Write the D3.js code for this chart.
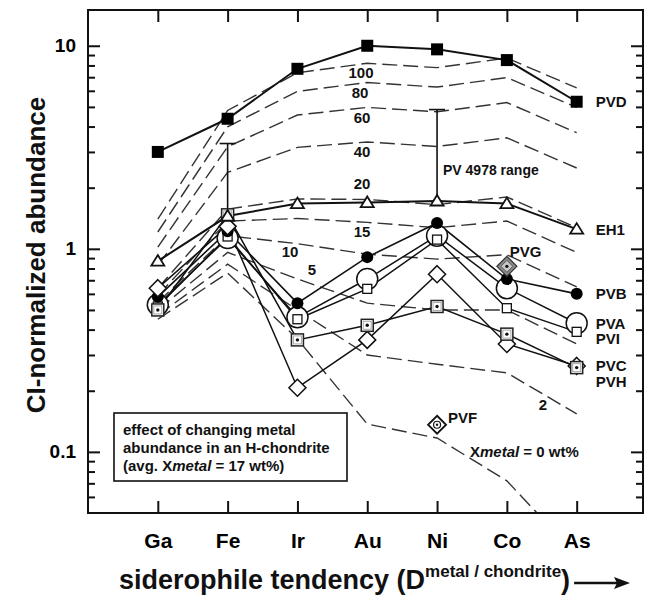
<!DOCTYPE html>
<html>
<head>
<meta charset="utf-8">
<script src="https://cdn.jsdelivr.net/npm/d3@7"></script>
<style>
  body { margin: 0; background: #fff; }
  svg text { font-family: "Liberation Sans", Arial, sans-serif; font-weight: bold; }
</style>
</head>
<body>
<svg id="chart" width="648" height="596"></svg>
<script>
const elements = ["Ga", "Fe", "Ir", "Au", "Ni", "Co", "As"];
const yMajor = [0.1, 1, 10];
const yMinor = [0.06, 0.07, 0.08, 0.09, 0.2, 0.3, 0.4, 0.5, 0.6, 0.7, 0.8, 0.9, 2, 3, 4, 5, 6, 7, 8, 9];

// samples, CI-normalized, in element order
const pvd = [3.0, 4.37, 7.7, 10.0, 9.6, 8.5, 5.3];
const eh1 = [0.87, 1.45, 1.67, 1.69, 1.72, 1.67, 1.25];
const pvb = [0.58, 1.22, 0.54, 0.91, 1.34, 0.71, 0.6];
const pva = [0.53, 1.13, 0.46, 0.71, 1.16, 0.64, 0.43];
const pvi = [0.52, 1.15, 0.45, 0.635, 1.11, 0.51, 0.39];
const pvc = [0.64, 1.29, 0.207, 0.356, 0.75, 0.34, 0.265];
const pvh = [0.5, 1.47, 0.356, 0.42, 0.52, 0.38, 0.26];
const pvgElement = "Co", pvgValue = 0.82;
const pvfElement = "Ni", pvfValue = 0.136;

// PV 4978 range bars
const rangeElements = ["Fe", "Ni"];
const rangeLow = [1.47, 1.74];
const rangeHigh = [3.3, 4.85];

// H-chondrite with changing metal abundance (wt% metal)
const metalPct = [100, 80, 60, 40, 20, 15, 10, 5, 2, 0];
const mix100 = [1.4, 4.8, 7.36, 8.2, 7.8, 8.7, 6.2];
const mix80 = [1.21, 3.99, 5.96, 6.59, 6.26, 6.97, 4.97];
const mix60 = [1.02, 3.18, 4.56, 4.97, 4.73, 5.25, 3.73];
const mix40 = [0.83, 2.38, 3.16, 3.36, 3.19, 3.52, 2.5];
const mix20 = [0.64, 1.57, 1.76, 1.75, 1.65, 1.8, 1.27];
const mix15 = [0.59, 1.37, 1.41, 1.35, 1.27, 1.37, 0.96];
const mix10 = [0.545, 1.16, 1.06, 0.94, 0.89, 0.935, 0.65];
const mix5 = [0.5, 0.96, 0.71, 0.54, 0.5, 0.5, 0.34];
const mix2 = [0.47, 0.84, 0.5, 0.3, 0.27, 0.245, 0.154];
const mix0 = [0.45, 0.76, 0.36, 0.137, 0.117, 0.072, 0.031];

function drawChart() {
  const left = 88, right = 643, top = 10, bottom = 513;
  const svg = d3.select("#chart");

  const x = d3.scaleLinear().domain([0, 7.95]).range([left, right]);
  const y = d3.scaleLog().domain([0.05, 15]).range([bottom, top]);
  const xe = (el) => x(elements.indexOf(el) + 1);

  svg.append("defs").append("clipPath").attr("id", "plotClip")
    .append("rect").attr("x", left).attr("y", top)
    .attr("width", right - left).attr("height", bottom - top);

  // model curves
  const curves = [mix100, mix80, mix60, mix40, mix20, mix15, mix10, mix5, mix2, mix0];
  const line = d3.line().x((d, i) => x(i + 1)).y((d) => y(d));
  svg.append("g").attr("clip-path", "url(#plotClip)")
    .selectAll("path")
    .data(curves)
    .enter()
    .append("path")
    .attr("d", line)
    .attr("fill", "none")
    .attr("stroke", "#333")
    .attr("stroke-width", 1.4)
    .attr("stroke-dasharray", "15,6");

  // range bars
  const rangeG = svg.append("g").attr("stroke", "#111").attr("stroke-width", 1.6);
  rangeElements.forEach((el, i) => {
    const cx = xe(el);
    rangeG.append("line").attr("x1", cx).attr("x2", cx)
      .attr("y1", y(rangeLow[i])).attr("y2", y(rangeHigh[i]));
    rangeG.append("line").attr("x1", cx - 8).attr("x2", cx + 8)
      .attr("y1", y(rangeHigh[i])).attr("y2", y(rangeHigh[i]));
  });

  const samples = [
    { name: "PVA", values: pva, marker: "bigcircle", width: 1.5, dy: 0 },
    { name: "PVI", values: pvi, marker: "smallsquare", width: 1.5, dy: 7 },
    { name: "PVB", values: pvb, marker: "dot", width: 1.6, dy: 0 },
    { name: "PVC", values: pvc, marker: "diamond", width: 1.5, dy: 0 },
    { name: "PVH", values: pvh, marker: "dotsquare", width: 1.5, dy: 14 },
    { name: "EH1", values: eh1, marker: "triangle", width: 2, dy: 0 },
    { name: "PVD", values: pvd, marker: "square", width: 2, dy: 0 },
  ];

  svg.append("g")
    .selectAll("path")
    .data(samples)
    .enter()
    .append("path")
    .attr("d", (d) => line(d.values))
    .attr("fill", "none")
    .attr("stroke", "#111")
    .attr("stroke-width", (d) => d.width);

  const drawMarker = (g, type, cx, cy) => {
    if (type === "square") {
      g.append("rect").attr("x", cx - 6).attr("y", cy - 6).attr("width", 12).attr("height", 12).attr("fill", "#000");
    } else if (type === "dot") {
      g.append("circle").attr("cx", cx).attr("cy", cy).attr("r", 6).attr("fill", "#000");
    } else if (type === "bigcircle") {
      g.append("circle").attr("cx", cx).attr("cy", cy).attr("r", 10.5)
        .attr("fill", "#fff").attr("stroke", "#111").attr("stroke-width", 1.5);
    } else if (type === "smallsquare") {
      g.append("rect").attr("x", cx - 4.5).attr("y", cy - 4.5).attr("width", 9).attr("height", 9)
        .attr("fill", "#fff").attr("stroke", "#111").attr("stroke-width", 1.3);
    } else if (type === "diamond") {
      g.append("path").attr("d", `M${cx},${cy - 8.5}L${cx + 8.5},${cy}L${cx},${cy + 8.5}L${cx - 8.5},${cy}Z`)
        .attr("fill", "#fff").attr("stroke", "#111").attr("stroke-width", 1.5);
    } else if (type === "dotsquare") {
      g.append("rect").attr("x", cx - 6).attr("y", cy - 6).attr("width", 12).attr("height", 12)
        .attr("fill", "#fff").attr("stroke", "#222").attr("stroke-width", 1.5);
      g.append("rect").attr("x", cx - 4).attr("y", cy - 4).attr("width", 8).attr("height", 8)
        .attr("fill", "none").attr("stroke", "#aaa").attr("stroke-width", 1);
      g.append("circle").attr("cx", cx).attr("cy", cy).attr("r", 1.7).attr("fill", "#111");
    } else if (type === "triangle") {
      g.append("path").attr("d", `M${cx},${cy - 6}L${cx + 6.5},${cy + 4.5}L${cx - 6.5},${cy + 4.5}Z`)
        .attr("fill", "#fff").attr("stroke", "#111").attr("stroke-width", 1.8);
    } else if (type === "graydiamond") {
      g.append("path").attr("d", `M${cx},${cy - 10}L${cx + 10},${cy}L${cx},${cy + 10}L${cx - 10},${cy}Z`)
        .attr("fill", "#8a8a8a").attr("stroke", "#333").attr("stroke-width", 1.2);
      g.append("path").attr("d", `M${cx},${cy - 6}L${cx + 6},${cy}L${cx},${cy + 6}L${cx - 6},${cy}Z`)
        .attr("fill", "#c8c8c8").attr("stroke", "#555").attr("stroke-width", 1);
      g.append("circle").attr("cx", cx).attr("cy", cy).attr("r", 1.6).attr("fill", "#111");
    } else if (type === "ringdiamond") {
      g.append("path").attr("d", `M${cx},${cy - 9}L${cx + 9},${cy}L${cx},${cy + 9}L${cx - 9},${cy}Z`)
        .attr("fill", "#fff").attr("stroke", "#111").attr("stroke-width", 1.8);
      g.append("circle").attr("cx", cx).attr("cy", cy).attr("r", 3.5)
        .attr("fill", "#fff").attr("stroke", "#111").attr("stroke-width", 1.2);
      g.append("circle").attr("cx", cx).attr("cy", cy).attr("r", 1.2).attr("fill", "#111");
    }
  };

  const markerG = svg.append("g");
  samples.forEach((s) => {
    s.values.forEach((v, i) => drawMarker(markerG, s.marker, x(i + 1), y(v)));
  });
  drawMarker(markerG, "graydiamond", xe(pvgElement), y(pvgValue));
  drawMarker(markerG, "ringdiamond", xe(pvfElement), y(pvfValue));

  // sample labels at the right end
  svg.append("g")
    .selectAll("text")
    .data(samples)
    .enter()
    .append("text")
    .attr("x", x(7) + 19)
    .attr("y", (d) => y(d.values[6]) + d.dy)
    .attr("dy", "0.36em")
    .attr("font-size", 15)
    .attr("fill", "#111")
    .text((d) => d.name);

  const notes = [
    { t: "PVG", x: xe(pvgElement) + 3, y: y(pvgValue) - 15 },
    { t: "PVF", x: xe(pvfElement) + 11, y: y(pvfValue) - 7 },
    { t: "100", x: 361, y: 73, a: "middle" },
    { t: "80", x: 360, y: 93, a: "middle" },
    { t: "60", x: 362, y: 118, a: "middle" },
    { t: "40", x: 362, y: 152, a: "middle" },
    { t: "20", x: 362, y: 184, a: "middle" },
    { t: "15", x: 362, y: 232, a: "middle" },
    { t: "10", x: 290, y: 252, a: "middle" },
    { t: "5", x: 312, y: 270, a: "middle" },
    { t: "2", x: 543, y: 405, a: "middle" },
  ];
  svg.append("g")
    .selectAll("text")
    .data(notes)
    .enter()
    .append("text")
    .attr("x", (d) => d.x)
    .attr("y", (d) => d.y)
    .attr("dy", "0.36em")
    .attr("text-anchor", (d) => d.a || "start")
    .attr("font-size", 15)
    .attr("fill", "#111")
    .text((d) => d.t);

  svg.append("text").attr("x", 443).attr("y", 170).attr("dy", "0.36em")
    .attr("font-size", 14).attr("fill", "#111").text("PV 4978 range");

  const xm = svg.append("text").attr("x", 470).attr("y", 452).attr("dy", "0.36em")
    .attr("font-size", 15).attr("fill", "#111");
  xm.append("tspan").text("X");
  xm.append("tspan").attr("font-style", "italic").text("metal");
  xm.append("tspan").text(" = 0 wt%");

  // explanation box
  svg.append("rect").attr("x", 114).attr("y", 413).attr("width", 233).attr("height", 68)
    .attr("fill", "#fff").attr("stroke", "#111").attr("stroke-width", 1.6);
  const box = svg.append("text").attr("font-size", 15).attr("fill", "#111");
  box.append("tspan").attr("x", 123).attr("y", 435).text("effect of changing metal");
  box.append("tspan").attr("x", 123).attr("y", 453).text("abundance in an H-chondrite");
  box.append("tspan").attr("x", 123).attr("y", 471).text("(avg. X");
  box.append("tspan").attr("font-style", "italic").text("metal");
  box.append("tspan").text(" = 17 wt%)");

  // axes: ticks pointing inward on all four sides
  const styleAxis = (g) => {
    g.select(".domain").remove();
    g.selectAll("line").attr("stroke", "#111").attr("stroke-width", 2);
    g.attr("font-family", null).attr("font-weight", "bold");
  };

  svg.append("g").attr("transform", `translate(0,${bottom})`)
    .call(d3.axisBottom(x).tickValues(d3.range(1, 8)).tickSize(-12).tickPadding(20)
      .tickFormat((d) => elements[d - 1]))
    .call(styleAxis)
    .attr("font-size", 21);
  svg.append("g").attr("transform", `translate(0,${top})`)
    .call(d3.axisTop(x).tickValues(d3.range(1, 8)).tickSize(-12).tickFormat(""))
    .call(styleAxis);

  svg.append("g").attr("transform", `translate(${left},0)`)
    .call(d3.axisLeft(y).tickValues(yMajor).tickSize(-12).tickPadding(12)
      .tickFormat((d) => String(d)))
    .call(styleAxis)
    .attr("font-size", 19);
  svg.append("g").attr("transform", `translate(${left},0)`)
    .call(d3.axisLeft(y).tickValues(yMinor).tickSize(-7).tickFormat(""))
    .call(styleAxis);
  svg.append("g").attr("transform", `translate(${right},0)`)
    .call(d3.axisLeft(y).tickValues(yMajor).tickSize(12).tickFormat(""))
    .call(styleAxis);
  svg.append("g").attr("transform", `translate(${right},0)`)
    .call(d3.axisLeft(y).tickValues(yMinor).tickSize(7).tickFormat(""))
    .call(styleAxis);

  svg.append("rect").attr("x", left).attr("y", top)
    .attr("width", right - left).attr("height", bottom - top)
    .attr("fill", "none").attr("stroke", "#111").attr("stroke-width", 2);

  // axis titles
  svg.append("text")
    .attr("transform", `translate(45,255) rotate(-90)`)
    .attr("text-anchor", "middle")
    .attr("font-size", 26)
    .attr("fill", "#111")
    .text("CI-normalized abundance");

  const xt = svg.append("text").attr("x", 119).attr("y", 589).attr("font-size", 27).attr("fill", "#111");
  xt.append("tspan").text("siderophile tendency (D");
  xt.append("tspan").attr("font-size", 17).attr("dy", -12).text("metal / chondrite");
  xt.append("tspan").attr("dy", 12).text(")");

  const bb = xt.node().getBBox();
  const ax = bb.x + bb.width + 4;
  svg.append("line").attr("x1", ax).attr("x2", 620).attr("y1", 583).attr("y2", 583)
    .attr("stroke", "#111").attr("stroke-width", 2.5);
  svg.append("path").attr("d", `M630,583L614,577L617,583L614,589Z`).attr("fill", "#111");
}

drawChart();
</script>
</body>
</html>
